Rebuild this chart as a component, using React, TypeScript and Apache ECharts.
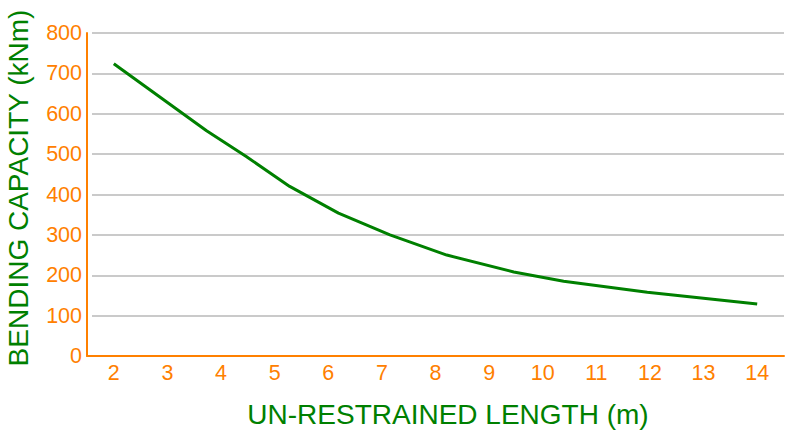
import React, { useEffect, useRef } from 'react';
import * as echarts from 'echarts';

// tick labels on the length axis
const lengthTicks = ['2', '3', '4', '5', '6', '7', '8', '9', '10', '11', '12', '13', '14'];

// curve: un-restrained length (m) vs bending capacity (kNm)
const lengths = [2, 3.73, 4.47, 5.28, 6.19, 7.15, 8.21, 9.46, 10.39, 11.95, 14];
const capacities = [724, 558, 494, 420, 354, 300, 250, 208, 185, 158, 129];

const ORANGE = '#ff8000';
const GREEN = '#008000';
const FONT = "'Liberation Sans', Arial, sans-serif";

const App: React.FC = () => {
  const chartRef = useRef<HTMLDivElement>(null);

  useEffect(() => {
    if (!chartRef.current) return;
    const chart = echarts.init(chartRef.current, undefined, { renderer: 'svg' });

    const option = {
      animation: false,
      textStyle: { fontFamily: FONT },
      grid: [
        // main plot area (axes, labels, curve)
        { left: 87, right: 16, top: 33, bottom: 80 },
        // grid lines stop a few pixels short of the y axis
        { left: 92, right: 16, top: 33, bottom: 80 },
      ],
      xAxis: [
        {
          type: 'category',
          gridIndex: 0,
          data: lengthTicks,
          boundaryGap: true,
          axisLine: { lineStyle: { color: ORANGE, width: 2 } },
          axisTick: { show: false },
          axisLabel: { color: ORANGE, fontSize: 21.5, margin: 6, fontFamily: FONT },
        },
        {
          type: 'value',
          gridIndex: 0,
          min: 1.5,
          max: 14.5,
          show: false,
        },
        {
          type: 'value',
          gridIndex: 1,
          show: false,
        },
      ],
      yAxis: [
        {
          type: 'value',
          gridIndex: 0,
          min: 0,
          max: 800,
          interval: 100,
          axisLine: { show: true, lineStyle: { color: ORANGE, width: 2 } },
          axisTick: { show: false },
          axisLabel: { color: ORANGE, fontSize: 21.5, margin: 5, fontFamily: FONT },
          splitLine: { show: false },
        },
        {
          type: 'value',
          gridIndex: 1,
          min: 0,
          max: 800,
          interval: 100,
          axisLine: { show: false },
          axisTick: { show: false },
          axisLabel: { show: false },
          splitLine: { show: true, lineStyle: { color: '#b8b8b8', width: 1.6 } },
        },
      ],
      graphic: [
        {
          type: 'text',
          x: 448,
          y: 414,
          style: {
            text: 'UN-RESTRAINED LENGTH (m)',
            fill: GREEN,
            font: `28px ${FONT}`,
            textAlign: 'center',
            textVerticalAlign: 'middle',
          },
        },
        {
          type: 'text',
          x: 18,
          y: 188,
          rotation: Math.PI / 2,
          style: {
            text: 'BENDING CAPACITY (kNm)',
            fill: GREEN,
            font: `28px ${FONT}`,
            textAlign: 'center',
            textVerticalAlign: 'middle',
          },
        },
      ],
      series: [
        {
          name: 'Bending capacity',
          type: 'line',
          xAxisIndex: 1,
          yAxisIndex: 0,
          symbol: 'none',
          lineStyle: { color: GREEN, width: 3 },
          data: lengths.map((x, i) => [x, capacities[i]]),
        },
      ],
    };

    chart.setOption(option);

    return () => {
      chart.dispose();
    };
  }, []);

  return (
    <div
      ref={chartRef}
      style={{ position: 'absolute', left: 0, top: 0, width: 800, height: 436 }}
    />
  );
};

export default App;
